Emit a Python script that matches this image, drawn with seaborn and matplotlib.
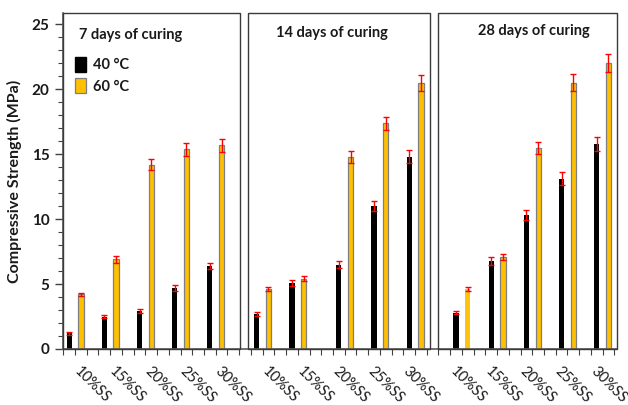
import numpy as np
import pandas as pd
import matplotlib
matplotlib.use("Agg")
import matplotlib.pyplot as plt
from matplotlib.patches import Rectangle, Patch
import seaborn as sns

# ---- data -------------------------------------------------------------
categories = ["10%SS", "15%SS", "20%SS", "25%SS", "30%SS"]
panel_titles = ["7 days of curing", "14 days of curing", "28 days of curing"]
temperatures = ["40 °C", "60 °C"]

# compressive strength (MPa) per curing age
strength_40_7d = [1.2, 2.5, 2.9, 4.7, 6.4]
strength_60_7d = [4.2, 6.9, 14.2, 15.4, 15.7]
strength_40_14d = [2.7, 5.1, 6.5, 11.0, 14.8]
strength_60_14d = [4.6, 5.4, 14.8, 17.4, 20.5]
strength_40_28d = [2.8, 6.8, 10.3, 13.1, 15.8]
strength_60_28d = [4.6, 7.1, 15.5, 20.5, 22.0]

# standard deviations (MPa)
sd_40_7d = [0.1, 0.1, 0.15, 0.25, 0.25]
sd_60_7d = [0.15, 0.25, 0.4, 0.5, 0.5]
sd_40_14d = [0.15, 0.25, 0.25, 0.4, 0.5]
sd_60_14d = [0.15, 0.2, 0.45, 0.5, 0.6]
sd_40_28d = [0.1, 0.3, 0.4, 0.5, 0.55]
sd_60_28d = [0.15, 0.25, 0.45, 0.65, 0.7]

# ---- layout (category slots along a shared axis) ----------------------
group_slots = [[0, 3, 6, 9, 12], [16, 19, 23, 26, 29], [33, 36, 39, 42, 45]]
label_slots = [2, 5, 8, 11, 14, 18, 21, 24, 27, 30, 34, 37, 40, 43, 46]
panel_spans = [(0.0, 15.04), (15.75, 31.3), (32.0, 47.2)]
title_pos = [(1.3, 24.2, "left"), (22.9, 24.3, "center"), (40.1, 24.45, "center")]

series_40 = [strength_40_7d, strength_40_14d, strength_40_28d]
series_60 = [strength_60_7d, strength_60_14d, strength_60_28d]
err_40 = [sd_40_7d, sd_40_14d, sd_40_28d]
err_60 = [sd_60_7d, sd_60_14d, sd_60_28d]

rows = []
for p in range(3):
    for i, cat in enumerate(categories):
        s = group_slots[p][i]
        rows.append(dict(pos=s + 0.5, strength=series_40[p][i], sd=err_40[p][i],
                         temp=temperatures[0], panel=p, cat=cat))
        rows.append(dict(pos=s + 1.5, strength=series_60[p][i], sd=err_60[p][i],
                         temp=temperatures[1], panel=p, cat=cat))
df = pd.DataFrame(rows)

BLACK = "#000000"
GOLD = "#FFC000"
EDGE = "#7F7F7F"
FRAME = "#3A3A3A"

sns.set_theme(style="white")
plt.rcParams["font.family"] = ["Lato", "DejaVu Sans"]

fig = plt.figure(figsize=(6.28, 4.05), dpi=100)
ax = fig.add_axes([63.3 / 628, 56 / 405, 553.4 / 628, 335.7 / 405])

sns.barplot(data=df, x="pos", y="strength", hue="temp", native_scale=True,
            dodge=False, width=0.45, palette=[BLACK, GOLD], saturation=1,
            errorbar=None, legend=False, ax=ax, linewidth=0)

for bar in ax.patches:
    fc = bar.get_facecolor()
    if fc[0] > 0.5:
        bar.set_edgecolor(EDGE)
        bar.set_linewidth(0.9)

# the 28-day 10%SS bar at 60 °C is drawn without an outline
p28 = df[(df.panel == 2) & (df.cat == "10%SS") & (df.temp == temperatures[1])].iloc[0]
for bar in ax.patches:
    cx = bar.get_x() + bar.get_width() / 2
    if abs(cx - p28.pos) < 1e-6:
        bar.set_edgecolor("none")
        bar.set_facecolor("#FFC20E")

ax.errorbar(df["pos"], df["strength"], yerr=df["sd"], fmt="none",
            ecolor="#FF0000", elinewidth=1.0, capsize=2.4, capthick=1.0, zorder=5)

# axes
ax.set_xlim(0, 47.2)
ax.set_ylim(0, 25.85)
ax.set_xlabel("")
ax.set_ylabel("Compressive Strength (MPa)", fontsize=11.5, fontweight="bold",
              color="#1A1A1A", labelpad=7)
ax.set_yticks(np.arange(0, 26, 5))
ax.set_yticks(np.arange(0, 26, 1), minor=True)
ax.set_xticks(np.arange(0, 48, 1))
ax.set_xticklabels([])
ax.tick_params(axis="y", which="major", direction="out", length=6, width=1,
               color="#404040", left=True, labelsize=11, pad=4)
ax.tick_params(axis="y", which="minor", direction="out", length=3.5, width=0.8,
               color="#404040", left=True)
ax.tick_params(axis="x", which="major", direction="out", length=4, width=0.8,
               color="#404040", bottom=True)
for lab in ax.get_yticklabels():
    lab.set_fontweight("bold")
    lab.set_color("#1A1A1A")

for side in ["top", "right"]:
    ax.spines[side].set_visible(False)
for side in ["left", "bottom"]:
    ax.spines[side].set_color("#5A5A5A")
    ax.spines[side].set_linewidth(1.2)

# panel frames
top = ax.get_ylim()[1]
for x0, x1 in panel_spans:
    ax.add_patch(Rectangle((x0, 0), x1 - x0, top, fill=False, edgecolor=FRAME,
                           linewidth=1.0, clip_on=False, zorder=6))

for (tx, ty, ha), title in zip(title_pos, panel_titles):
    ax.text(tx, ty, title, ha=ha, va="center", fontsize=10.5, fontweight="bold",
            color="#1A1A1A")

# rotated category labels
for k, s in enumerate(label_slots):
    ax.annotate(categories[k % len(categories)], xy=(s + 0.5, 0),
                xycoords=("data", "axes fraction"), xytext=(0, -26),
                textcoords="offset points", rotation=-45, ha="center",
                va="center", fontsize=10.5, color="#1A1A1A",
                rotation_mode="default")

handles = [Patch(facecolor=BLACK, edgecolor=BLACK),
           Patch(facecolor=GOLD, edgecolor=EDGE, linewidth=0.9)]
leg = ax.legend(handles, temperatures, loc="upper left",
                bbox_to_anchor=(0.022, 0.87), frameon=False, borderpad=0,
                borderaxespad=0, handlelength=0.75, handleheight=1.2,
                handletextpad=0.45, labelspacing=0.4,
                prop={"weight": "bold", "size": 10.5})
for t in leg.get_texts():
    t.set_color("#1A1A1A")

fig.savefig("out.png", dpi=100)
